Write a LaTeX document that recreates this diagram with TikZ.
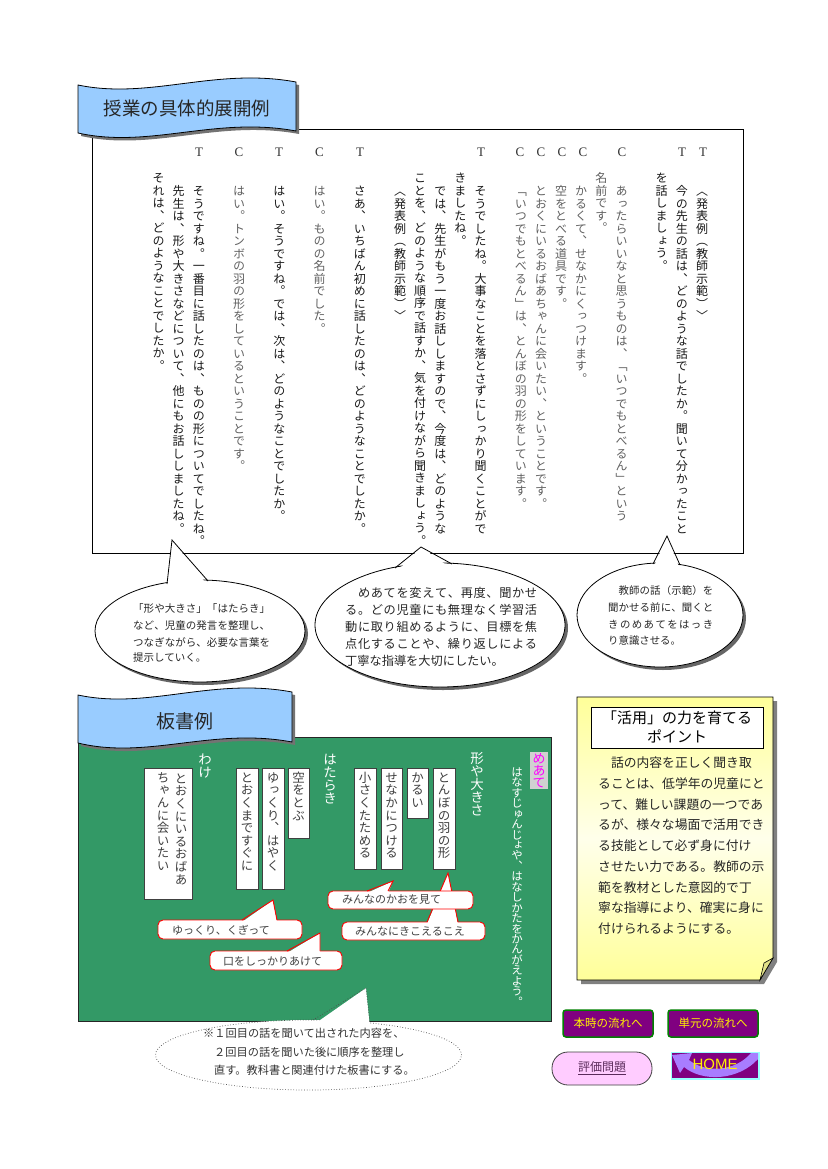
\documentclass[tikz,border=0pt]{standalone}
\usepackage{fontspec}
\setmainfont{Liberation Serif}
\newfontfamily\jp{Noto Sans CJK JP}
\newfontfamily\vjp[RawFeature=+vert]{Noto Sans CJK JP}
\newfontfamily\lsans{Liberation Sans}
\definecolor{bannerblue}{HTML}{99CCFF}
\definecolor{boardgreen}{HTML}{339966}
\definecolor{btnpurple}{HTML}{800080}
\definecolor{btngreen}{HTML}{008000}
\definecolor{notey}{HTML}{FFFF99}
\definecolor{pinkbtn}{HTML}{FFCCFF}
\definecolor{homearrow}{HTML}{9966FF}
\definecolor{glow}{HTML}{99FFFF}
\definecolor{magentat}{HTML}{FF00FF}
\definecolor{evaltext}{HTML}{5A2A5A}
% vertical stacking of characters
\newdimen\vpitch \vpitch=12.5pt
\def\vstackend{}
\def\vstack#1{\vbox{\baselineskip=\vpitch\lineskiplimit=-1000pt\lineskip=0pt\vstackaux#1\vstackend}}
\def\vstackaux#1{\ifx#1\vstackend\else\hbox to 1em{\vrule height .88em depth .12em width 0pt\hss#1\hss}\expandafter\vstackaux\fi}
% justified line
\def\jstend{}
\def\jst#1#2{\hbox to #1{\jstfirst#2\jstend}}
\def\jstfirst#1{#1\jstaux}
\def\jstaux#1{\ifx#1\jstend\else\hfil#1\expandafter\jstaux\fi}
\newcommand\vcol[5][12.5pt]{\node[#2] at (#3,#4) {\vpitch=#1\relax\vstack{#5}};}
\tikzset{
  tl/.style={anchor=north,inner sep=0pt,font=\vjp\fontsize{12}{12}\selectfont,text=black!90},
  cl/.style={anchor=north,inner sep=0pt,font=\vjp\fontsize{12}{12}\selectfont,text=black!62},
  tclabel/.style={inner sep=0pt,font=\fontsize{13}{13}\selectfont,text=black!80},
  wl/.style={anchor=north,inner sep=0pt,font=\vjp\fontsize{13.5}{13.5}\selectfont,text=white},
  cardtext/.style={anchor=north,inner sep=0pt,font=\vjp\fontsize{12.5}{12.5}\selectfont,text=black!75},
  card/.style={fill=white,draw=black!75,line width=0.8pt},
  bub/.style={fill=white,draw=red,line width=0.9pt,rounded corners=5pt},
  bubtext/.style={anchor=west,inner sep=0pt,font=\jp\fontsize{11}{11}\selectfont,text=black!75},
  htext/.style={anchor=west,inner sep=0pt,text=black!85},
  shadowc/.style={fill=black!60},
  btn/.style={fill=btnpurple,draw=btngreen,line width=1.5pt,rounded corners=3pt},
  btntext/.style={inner sep=0pt,font=\jp\fontsize{11.5}{11.5}\selectfont,text=yellow},
}
\begin{document}
\begin{tikzpicture}[x=1pt,y=-1pt]
\useasboundingbox (0,0) rectangle (827,1169);
\fill[white] (0,0) rectangle (827,1169);

% ===== main box =====
\draw[black,line width=0.8pt,fill=white] (92,129) rectangle (743,553);
% banner 1
\fill[black!55] (81,88) .. controls (153,103) and (218,70) .. (299,85) -- (299,134) .. controls (218,119) and (153,152) .. (81,136) -- cycle;
\filldraw[fill=bannerblue,draw=black,line width=0.8pt] (78,85) .. controls (150,100) and (215,67) .. (296,82) -- (296,131) .. controls (215,116) and (150,149) .. (78,133) -- cycle;
\node[inner sep=0pt,font=\jp\fontsize{18.5}{18.5}\selectfont,text=black!85] (title1) at (187,108) {授業の具体的展開例};

% T / C labels
\foreach \xx/\ll in {703/T,682/T,622/C,583/C,562/C,541/C,520/C,481/T,360/T,319.5/C,279/T,239/C,199/T}
  \node[tclabel] at (\xx,152) {\ll};

% columns (right to left)
\vcol{tl}{702}{185}{〈発表例（教師示範）〉}
\vcol{tl}{681.9}{185}{今の先生の話は、どのような話でしたか。聞いて分かったこと}
\vcol{tl}{661.7}{172}{を話しましょう。}
\vcol{cl}{621.5}{185}{あったらいいなと思うものは、「いつでもとべるん」という}
\vcol{cl}{601.4}{172}{名前です。}
\vcol{cl}{581.2}{185}{かるくて、せなかにくっつけます。}
\vcol{cl}{561.1}{185}{空をとべる道具です。}
\vcol{cl}{541}{185}{とおくにいるおばあちゃんに会いたい、ということです。}
\vcol{cl}{520.8}{185}{「いつでもとべるん」は、とんぼの羽の形をしています。}
\vcol{tl}{480.6}{185}{そうでしたね。大事なことを落とさずにしっかり聞くことがで}
\vcol{tl}{460.4}{172}{きましたね。}
\vcol{tl}{440.3}{185}{では、先生がもう一度お話ししますので、今度は、どのような}
\vcol{tl}{420.2}{172}{ことを、どのような順序で話すか、気を付けながら聞きましょう。}
\vcol{tl}{400.1}{185}{〈発表例（教師示範）〉}
\vcol{tl}{359.8}{185}{さあ、いちばん初めに話したのは、どのようなことでしたか。}
\vcol{cl}{319.5}{185}{はい。ものの名前でした。}
\vcol{tl}{279.3}{185}{はい。そうですね。では、次は、どのようなことでしたか。}
\vcol{cl}{239}{185}{はい。トンボの羽の形をしているということです。}
\vcol{tl}{198.8}{185}{そうですね。一番目に話したのは、ものの形についてでしたね。}
\vcol{tl}{178.6}{185}{先生は、形や大きさなどについて、他にもお話ししましたね。}
\vcol{tl}{158.5}{172}{それは、どのようなことでしたか。}

% ===== callouts =====
% callout 1
\fill[shadowc] (203,634) ellipse [x radius=105pt,y radius=51pt];
\filldraw[fill=white,draw=black,line width=0.8pt] (200,631) ellipse [x radius=105pt,y radius=51pt];
\fill[white] (167,589) -- (172,540) -- (208,586) -- cycle;
\draw[black,line width=0.8pt] (167,584) -- (172,540) -- (208,581);
\node[htext,font=\jp\fontsize{10.5}{10.5}\selectfont] (c1a) at (133,609) {\jst{137pt}{「形や大きさ」「はたらき」}};
\node[htext,font=\jp\fontsize{10.5}{10.5}\selectfont] (c1b) at (133,625.5) {\jst{137pt}{など、児童の発言を整理し、}};
\node[htext,font=\jp\fontsize{10.5}{10.5}\selectfont] (c1c) at (133,642) {\jst{137pt}{つなぎながら、必要な言葉を}};
\node[htext,font=\jp\fontsize{10.5}{10.5}\selectfont] (c1d) at (133,658) {提示していく。};
% callout 2
\fill[shadowc] (443,628) ellipse [x radius=125pt,y radius=62pt];
\filldraw[fill=white,draw=black,line width=0.8pt] (440,625) ellipse [x radius=125pt,y radius=62pt];
\fill[white] (395,573) -- (421,547) -- (452,569) -- cycle;
\draw[black,line width=0.8pt] (395,568) -- (421,547) -- (452,564);
\node[htext,font=\jp\fontsize{12.2}{12.2}\selectfont] (c2a) at (345,593) {\jst{192pt}{　めあてを変えて、再度、聞かせ}};
\node[htext,font=\jp\fontsize{12.2}{12.2}\selectfont] (c2b) at (345,610) {\jst{192pt}{る。どの児童にも無理なく学習活}};
\node[htext,font=\jp\fontsize{12.2}{12.2}\selectfont] (c2c) at (345,627) {\jst{192pt}{動に取り組めるように、目標を焦}};
\node[htext,font=\jp\fontsize{12.2}{12.2}\selectfont] (c2d) at (345,644) {\jst{192pt}{点化することや、繰り返しによる}};
\node[htext,font=\jp\fontsize{12.2}{12.2}\selectfont] (c2e) at (345,661) {丁寧な指導を大切にしたい。};
% callout 3
\fill[shadowc] (663,618) ellipse [x radius=83pt,y radius=52pt];
\filldraw[fill=white,draw=black,line width=0.8pt] (660,615) ellipse [x radius=83pt,y radius=52pt];
\fill[white] (653,569) -- (667,536) -- (680,570) -- cycle;
\draw[black,line width=0.8pt] (653,564) -- (667,536) -- (680,565);
\node[htext,font=\jp\fontsize{10.4}{10.4}\selectfont] (c3a) at (608,591) {\jst{105pt}{　教師の話（示範）を}};
\node[htext,font=\jp\fontsize{10.4}{10.4}\selectfont] (c3b) at (608,608) {\jst{105pt}{聞かせる前に、聞くと}};
\node[htext,font=\jp\fontsize{10.4}{10.4}\selectfont] (c3c) at (608,625) {\jst{105pt}{きのめあてをはっき}};
\node[htext,font=\jp\fontsize{10.4}{10.4}\selectfont] (c3d) at (608,641) {り意識させる。};

% ===== board =====
\fill[boardgreen] (78,737) rectangle (551,1021);
\draw[black!85,line width=1pt] (78,737) rectangle (551,1021);
% banner 2
\fill[black!55] (81,698) .. controls (151,713) and (215,680) .. (295,695) -- (295,745) .. controls (215,730) and (151,763) .. (81,746) -- cycle;
\filldraw[fill=bannerblue,draw=black,line width=0.8pt] (78,695) .. controls (148,710) and (212,677) .. (292,692) -- (292,742) .. controls (212,727) and (148,760) .. (78,743) -- cycle;
\node[inner sep=0pt,font=\jp\fontsize{19}{19}\selectfont,text=black!85] (title2) at (185,721) {板書例};

% めあて
\fill[black!18] (530,752) rectangle (548,789);
\vcol[12pt]{anchor=north,inner sep=0pt,font=\vjp\fontsize{13}{13}\selectfont,text=magentat}{539}{752}{めあて}
\vcol[10.45pt]{wl,font=\vjp\fontsize{11.5}{11.5}\selectfont}{517}{766}{はなすじゅんじょや、はなしかたをかんがえよう。}
\vcol[13pt]{wl}{477}{751}{形や大きさ}
\vcol[13pt]{wl}{330}{752}{はたらき}
\vcol[13pt]{wl}{205}{752}{わけ}

% cards
\draw[card] (433,768) rectangle (455,869);
\vcol[12.6pt]{cardtext}{444}{771}{とんぼの羽の形}
\draw[card] (407,768) rectangle (428,818);
\vcol[12.6pt]{cardtext}{417.5}{771}{かるい}
\draw[card] (381,768) rectangle (402,869);
\vcol[12.6pt]{cardtext}{391.5}{771}{せなかにつける}
\draw[card] (354,768) rectangle (376,869);
\vcol[12.6pt]{cardtext}{365}{771}{小さくたためる}
\draw[card] (288,768) rectangle (309,838);
\vcol[12.6pt]{cardtext}{298.5}{771}{空をとぶ}
\draw[card] (262,768) rectangle (284,889);
\vcol[12.6pt]{cardtext}{273}{771}{ゆっくり、はやく}
\draw[card] (236,768) rectangle (258,889);
\vcol[12.6pt]{cardtext}{247}{771}{とおくまですぐに}
\draw[card] (144,768) rectangle (192,899);
\vcol[12.6pt]{cardtext}{181}{772}{とおくにいるおばあ}
\vcol[12.6pt]{cardtext}{163}{771}{ちゃんに会いたい}

% bubbles
% B
\draw[bub] (342,922) rectangle (485,940);
\fill[white] (427,924) -- (448,873) -- (458,924) -- cycle;
\draw[red,line width=0.9pt] (427,922) -- (448,873) -- (458,922);
\node[bubtext] (bB) at (355,931) {みんなにきこえるこえ};
% A
\draw[bub] (328,891) rectangle (473,909);
\fill[white] (367,893) -- (393,881) -- (388,893) -- cycle;
\draw[red,line width=0.9pt] (367,891) -- (393,881) -- (388,891);
\node[bubtext] (bA) at (342,900) {みんなのかおを見て};
% C
\draw[bub] (158,920) rectangle (302,939);
\fill[white] (242,922) -- (273,900) -- (277,922) -- cycle;
\draw[red,line width=0.9pt] (242,920) -- (273,900) -- (277,920);
\node[bubtext] (bC) at (172,930) {ゆっくり、くぎって};
% D
\draw[bub] (210,951) rectangle (342,970);
\fill[white] (287,953) -- (320,933) -- (320,953) -- cycle;
\draw[red,line width=0.9pt] (287,951) -- (320,933) -- (320,951);
\node[bubtext] (bD) at (223,961) {口をしっかりあけて};

% dotted ellipse callout
\filldraw[fill=white,draw=black!70,dotted,line width=0.7pt] (308.5,1055) ellipse [x radius=153pt,y radius=35pt];
\fill[white] (313,1025) -- (366,988) -- (370,1028) -- cycle;
\draw[black!70,dotted,line width=0.7pt] (313,1020) -- (366,988) -- (370,1023);
\node[htext,font=\jp\fontsize{11.2}{11.2}\selectfont,text=black!80] (n1) at (203,1033) {※１回目の話を聞いて出された内容を、};
\node[htext,font=\jp\fontsize{11.2}{11.2}\selectfont,text=black!80] (n2) at (214,1052) {２回目の話を聞いた後に順序を整理し};
\node[htext,font=\jp\fontsize{11.2}{11.2}\selectfont,text=black!80] (n3) at (214,1070) {直す。教科書と関連付けた板書にする。};

% ===== note box =====
\fill[black!50] (581,701) -- (777,701) -- (777,962) -- (764,984) -- (581,984) -- cycle;
\shade[top color=notey,bottom color=notey,middle color=notey!20] (577,697) -- (773,697) -- (773,958) -- (760,980) -- (577,980) -- cycle;
\draw[black,line width=0.8pt] (577,697) -- (773,697) -- (773,958) -- (760,980) -- (577,980) -- cycle;
\filldraw[fill=notey!70!black!40!notey,draw=black,line width=0.6pt] (760,980) -- (764,963) -- (773,958) -- cycle;
\filldraw[fill=white,draw=black,line width=0.9pt] (591,707) rectangle (763,748);
\node[inner sep=0pt,font=\jp\fontsize{15}{15}\selectfont,text=black] (pt1) at (677,718) {「活用」の力を育てる};
\node[inner sep=0pt,font=\jp\fontsize{15}{15}\selectfont,text=black] (pt2) at (677,736) {ポイント};
\foreach \k/\ln in {0/　話の内容を正しく聞き取,1/ることは、低学年の児童にと,2/って、難しい課題の一つであ,3/るが、様々な場面で活用でき,4/る技能として必ず身に付け,5/させたい力である。教師の示,6/範を教材とした意図的で丁,7/寧な指導により、確実に身に}
  \node[htext,font=\jp\fontsize{12.8}{12.8}\selectfont] at (598,763+20.7*\k) {\jst{172pt}{\ln}};
\node[htext,font=\jp\fontsize{12.8}{12.8}\selectfont] (pl9) at (598,928.6) {付けられるようにする。};

% ===== buttons =====
\draw[btn] (563,1010) rectangle (653,1037);
\node[btntext] (b1) at (608,1023.5) {本時の流れへ};
\draw[btn] (668,1010) rectangle (758,1037);
\node[btntext] (b2) at (713,1023.5) {単元の流れへ};
\draw[fill=pinkbtn,draw=black!75,line width=0.8pt,rounded corners=16pt] (552,1052) rectangle (652,1085);
\node[inner sep=0pt,font=\jp\fontsize{12}{12}\selectfont,text=evaltext] (b3) at (602,1068) {\underline{評価問題}};
\draw[glow,line width=3pt] (672,1053) rectangle (758,1078);
\fill[btnpurple] (672,1053) rectangle (758,1078);
\fill[homearrow!85] (672,1055) -- (692,1053) -- (689,1060) .. controls (705,1073) and (735,1072) .. (751,1053) -- (758,1053) -- (758,1059) .. controls (738,1081) and (702,1082) .. (684,1067) -- (680,1073) -- cycle;
\node[inner sep=0pt,font=\lsans\fontsize{15}{15}\selectfont,text=yellow] (home) at (715,1064) {HOME};
\end{tikzpicture}
\end{document}
